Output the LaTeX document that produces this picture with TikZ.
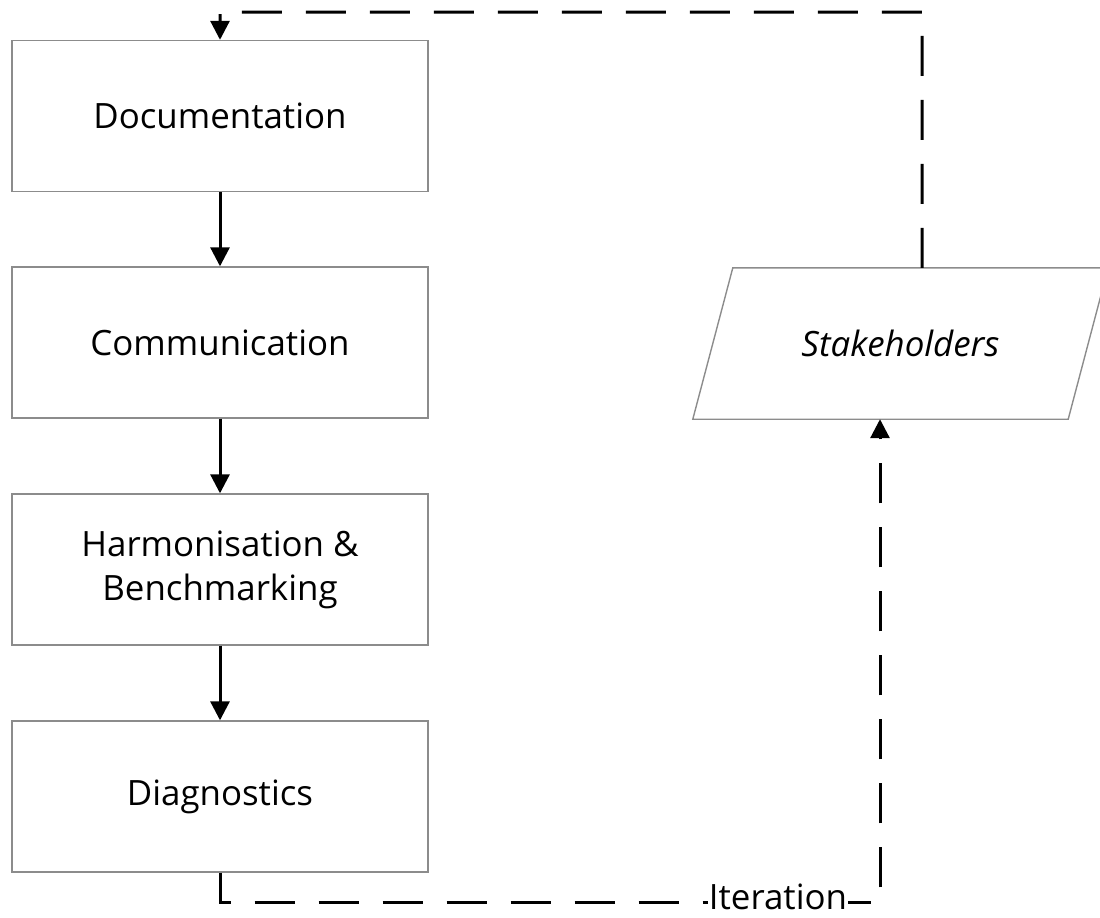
\documentclass[tikz,border=0pt]{standalone}
\usepackage{fontspec}
\setmainfont{Open Sans}
\usetikzlibrary{arrows.meta,calc}
\begin{document}
\begin{tikzpicture}[x=1bp,y=1bp,
  txt/.style={font=\fontsize{35}{44}\selectfont},
  stepbox/.style={txt,draw=black!45,line width=1.4bp,minimum width=416bp,minimum height=151bp,
    align=center},
  flow/.style={line width=3bp,-{Triangle[width=19bp,length=19bp]}},
  loop/.style={line width=3bp,dash pattern=on 40bp off 24bp},
  looparrow/.style={loop,-{Triangle[width=19bp,length=19bp]}}]
\useasboundingbox (0,0) rectangle (1100,-918);
\node[stepbox] (doc)  at (220,-116)   {Documentation};
\node[stepbox] (com)  at (220,-342.5) {Communication};
\node[stepbox] (harm) at (220,-569.5) {Harmonisation \&\\Benchmarking};
\node[stepbox] (diag) at (220,-796.5) {Diagnostics};
\node[txt,font=\fontsize{35}{44}\selectfont\itshape,minimum width=415bp,minimum height=151bp] (stake) at (900.5,-343.5) {Stakeholders};
% slanted input box around the stakeholder text
\draw[draw=black!45,line width=1.4bp]
  (stake.south west) -- ($(stake.south east)+(-40,0)$)
  -- (stake.north east) -- ($(stake.north west)+(40,0)$) -- cycle;
\draw[flow] (doc) -- (com);
\draw[flow] (com) -- (harm);
\draw[flow] (harm) -- (diag);
\coordinate (tr) at (922,-12);
\coordinate (br) at (880,-902);
\draw[looparrow] ($(stake.north)+(21.5,0)$) -- (tr) -- (tr -| doc.north) -- (doc.north);
\draw[looparrow] (diag.south) -- (diag.south |- br) -- (br) -- ($(stake.south)+(-20.5,0)$);
\node[txt,fill=white,inner xsep=1bp,inner ysep=0bp,text depth=0pt,anchor=base] (it) at (778,-909) {Iteration};
\end{tikzpicture}
\end{document}
